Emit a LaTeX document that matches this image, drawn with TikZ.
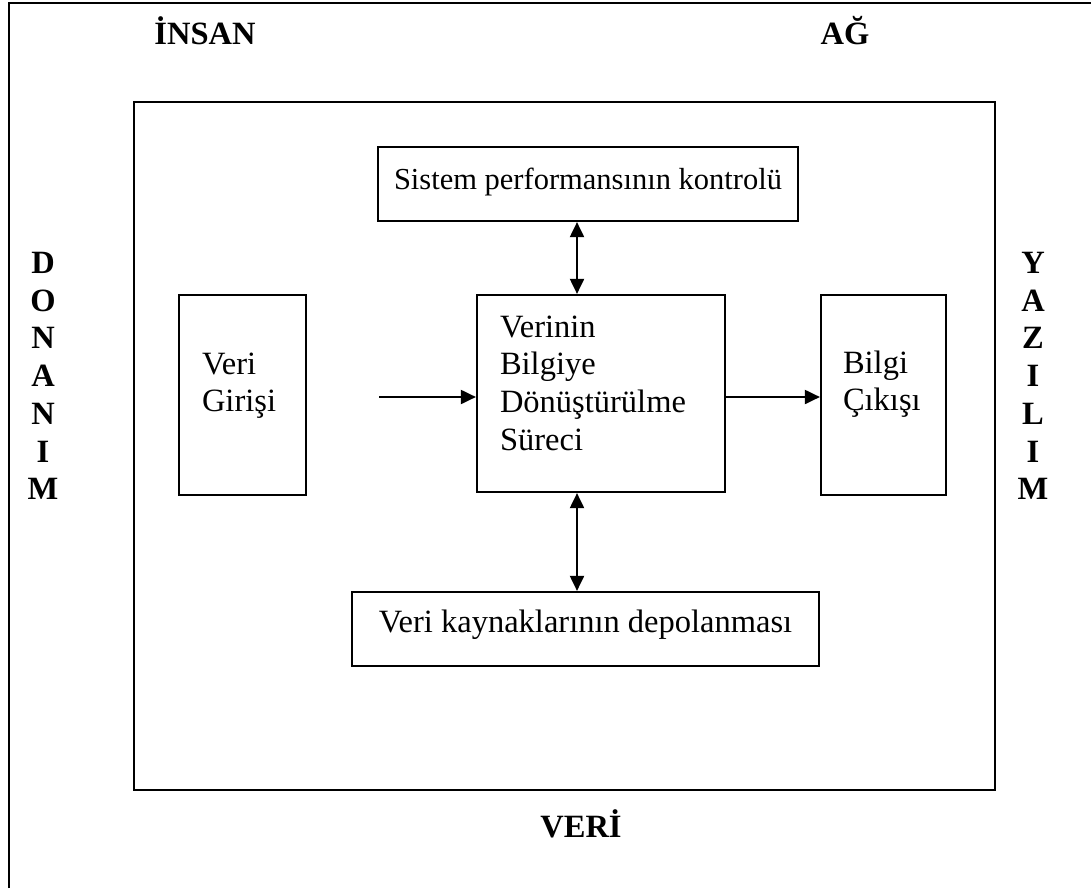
\documentclass[tikz,border=0pt]{standalone}
\usepackage{fontspec}
\setmainfont{Liberation Serif}
\usetikzlibrary{arrows.meta,positioning}

\tikzset{
	box/.style={draw,line width=2.2pt,inner sep=2pt,align=left,text height=22pt,font=\fontsize{32.5}{37.7}\selectfont},
	side/.style={font=\fontsize{32.5}{37.7}\selectfont\bfseries,align=center},
	flow/.style={line width=2pt,-{Triangle[length=15pt,width=14pt]}},
	twoway/.style={line width=2pt,{Triangle[length=15pt,width=14pt]}-{Triangle[length=15pt,width=14pt]}}
}

\begin{document}
\begin{tikzpicture}[x=1pt,y=-1pt]
		\useasboundingbox (0,0) rectangle (1091,888);
		\draw[line width=2.5pt] (9,888) -- (9,3) -- (1091,3);
		\begin{scope}
			\node(sys) [draw,line width=2.5pt,minimum width=861pt,minimum height=688pt] at (564.5,446) {};
			\node(ctrl) [box,minimum width=420pt,minimum height=74pt,text depth=12pt,font=\fontsize{30.5}{36}\selectfont] at (588,184) {Sistem performansının kontrolü};
			\node(proc) [box,text width=202pt,minimum width=248pt,minimum height=197pt,text depth=135pt] at (601,393.5) {Verinin\\Bilgiye\\Dönüştürülme\\Süreci};
			\node(in) [box,text width=81pt,minimum width=127pt,minimum height=200pt,text depth=64pt] at (242.5,395) {Veri\\Girişi};
			\node(out) [box,text width=81pt,minimum width=125pt,minimum height=200pt,text depth=66pt] at (883.5,395) {Bilgi\\Çıkışı};
			\node(store) [box,minimum width=467pt,minimum height=74pt,text depth=16pt] at (585.5,629) {Veri kaynaklarının depolanması};
			\coordinate(start) at (379,397);
			\coordinate(vx) at (577,0);
			\draw[flow] (start) -- (start -| proc.west);
			\draw[flow] (proc.east |- start) -- (start -| out.west);
			\draw[twoway] (vx |- ctrl.south) -- (vx |- proc.north);
			\draw[twoway] (vx |- proc.south) -- (vx |- store.north);
		\end{scope}
		\node(insan) [side,anchor=base] at (205,45) {İNSAN};
		\node(ag) [side,anchor=base] at (845,45) {AĞ};
		\node(veri) [side,anchor=base] at (581,837) {VERİ};
		\node(donanim) [side] at (43,376) {D\\O\\N\\A\\N\\I\\M};
		\node(yazilim) [side] at (1033,376) {Y\\A\\Z\\I\\L\\I\\M};
	\end{tikzpicture}
\end{document}
